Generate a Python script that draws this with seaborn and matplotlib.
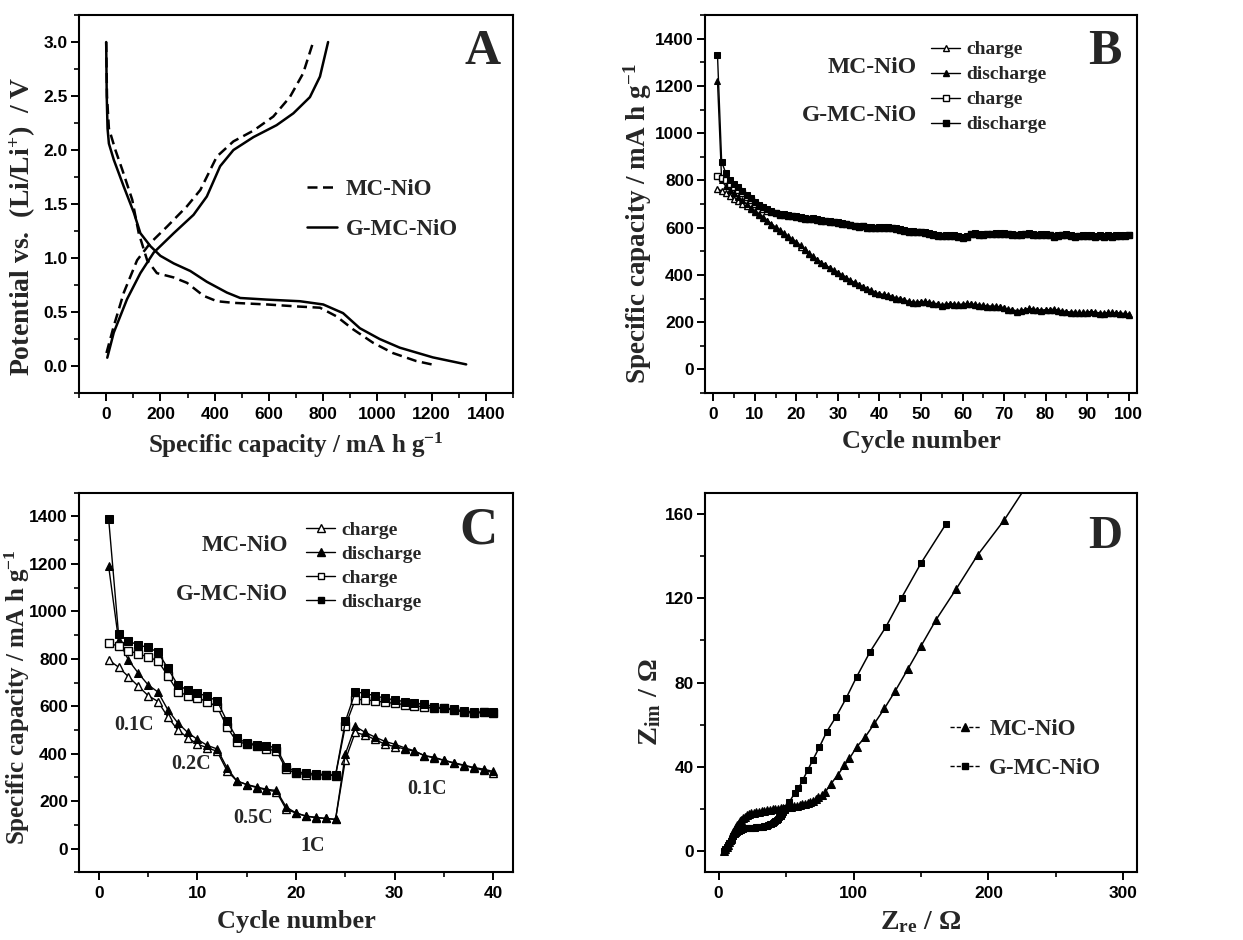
import matplotlib
matplotlib.use("Agg")
import matplotlib.pyplot as plt
import seaborn as sns
from matplotlib.ticker import MultipleLocator
from matplotlib.lines import Line2D

# ---------------- Panel A: charge/discharge profiles ----------------
A_mc_dis_x = [0, 3, 10, 34, 59, 96, 120, 151, 187, 249, 298, 359, 408, 469, 592, 714, 788, 849, 910, 984, 1057, 1143, 1216]
A_mc_dis_y = [3.0, 2.5, 2.2, 2.0, 1.82, 1.54, 1.23, 0.98, 0.86, 0.82, 0.77, 0.65, 0.60, 0.585, 0.57, 0.55, 0.54, 0.46, 0.34, 0.215, 0.12, 0.046, 0.006]
A_g_dis_x = [0, 2, 5, 10, 28, 65, 102, 126, 163, 200, 249, 310, 371, 445, 494, 592, 714, 800, 873, 935, 1008, 1082, 1204, 1327]
A_g_dis_y = [3.0, 2.5, 2.2, 2.06, 1.91, 1.66, 1.42, 1.23, 1.11, 1.02, 0.95, 0.88, 0.78, 0.68, 0.63, 0.615, 0.60, 0.57, 0.49, 0.35, 0.25, 0.17, 0.08, 0.015]
A_mc_chg_x = [1, 28, 65, 114, 163, 224, 298, 347, 408, 469, 543, 616, 677, 726, 763]
A_mc_chg_y = [0.12, 0.37, 0.68, 0.98, 1.14, 1.29, 1.48, 1.63, 1.94, 2.08, 2.18, 2.31, 2.49, 2.71, 3.0]
A_g_chg_x = [4, 28, 77, 126, 175, 249, 322, 371, 420, 469, 543, 628, 690, 751, 788, 818]
A_g_chg_y = [0.077, 0.31, 0.62, 0.86, 1.05, 1.23, 1.40, 1.57, 1.85, 2.0, 2.12, 2.23, 2.34, 2.49, 2.68, 3.0]

# ---------------- Panel B: cycling (100 cycles) ----------------
B_cycle = list(range(1, 101))
B_mc_charge = [765, 755, 745, 735, 722, 712, 700, 690, 678, 665,
               652, 640, 627, 613, 600, 587, 573, 560, 548, 536,
               520, 505, 490, 475, 462, 450, 440, 428, 418, 408,
               397, 385, 375, 365, 356, 348, 340, 332, 322, 318,
               315, 312, 305, 300, 298, 292, 285, 283, 282, 284,
               285, 282, 278, 275, 270, 274, 275, 274, 272, 274,
               276, 275, 273, 270, 268, 266, 266, 265, 262, 258,
               252, 250, 245, 247, 250, 255, 253, 250, 248, 250,
               250, 252, 248, 245, 242, 240, 240, 238, 238, 240,
               242, 240, 236, 235, 238, 238, 237, 236, 234, 230]
B_mc_discharge = [1220, 800, 775, 760, 745, 730, 715, 700, 685, 670,
                  657, 644, 630, 616, 602, 589, 576, 563, 551, 540,
                  525, 508, 493, 478, 465, 452, 442, 430, 420, 410,
                  400, 388, 378, 368, 358, 350, 342, 334, 325, 320,
                  318, 315, 308, 303, 300, 295, 288, 285, 285, 287,
                  288, 285, 281, 278, 273, 277, 278, 277, 275, 277,
                  279, 278, 276, 273, 271, 269, 268, 268, 265, 261,
                  255, 253, 248, 250, 253, 258, 256, 253, 251, 253,
                  253, 255, 251, 248, 245, 243, 243, 241, 241, 243,
                  245, 243, 239, 238, 241, 241, 240, 239, 237, 233]
B_g_charge = [820, 812, 800, 785, 772, 760, 745, 730, 715, 700,
              690, 680, 672, 665, 660, 655, 652, 650, 648, 645,
              640, 637, 635, 636, 633, 630, 627, 624, 622, 620,
              617, 614, 610, 606, 603, 605, 600, 598, 597, 598,
              600, 598, 597, 595, 590, 585, 583, 582, 580, 580,
              578, 575, 570, 565, 563, 565, 566, 565, 562, 558,
              560, 572, 573, 570, 570, 572, 572, 574, 575, 575,
              572, 570, 568, 570, 572, 574, 570, 568, 570, 570,
              568, 560, 565, 568, 570, 565, 562, 563, 565, 565,
              565, 562, 565, 560, 565, 562, 564, 565, 566, 567]
B_g_discharge = [1330, 880, 830, 800, 785, 770, 755, 740, 725, 710,
                 696, 686, 677, 670, 664, 659, 656, 653, 651, 648,
                 643, 640, 638, 639, 636, 633, 630, 627, 625, 623,
                 620, 617, 613, 609, 606, 608, 603, 601, 600, 601,
                 603, 601, 600, 598, 593, 588, 586, 585, 583, 583,
                 581, 578, 573, 568, 566, 568, 569, 568, 565, 561,
                 563, 575, 576, 573, 573, 575, 575, 577, 578, 578,
                 575, 573, 571, 573, 575, 577, 573, 571, 573, 573,
                 571, 563, 568, 571, 573, 568, 565, 566, 568, 568,
                 568, 565, 568, 563, 568, 565, 567, 568, 569, 570]

# ---------------- Panel C: rate capability (40 cycles) ----------------
C_cycle = list(range(1, 41))
C_mc_charge = [795, 765, 725, 685, 645, 620, 555, 500, 468, 440,
               425, 410, 328, 285, 270, 257, 247, 240, 165, 150,
               137, 130, 127, 123, 375, 490, 478, 460, 440, 430,
               420, 410, 392, 382, 372, 360, 350, 340, 330, 320]
C_mc_discharge = [1190, 880, 795, 740, 690, 660, 585, 530, 490, 460,
                  435, 420, 340, 285, 270, 260, 250, 245, 175, 150,
                  137, 132, 127, 123, 400, 515, 490, 470, 452, 440,
                  425, 412, 392, 385, 372, 362, 352, 342, 335, 325]
C_g_charge = [868, 852, 833, 822, 807, 792, 728, 662, 645, 634,
              620, 598, 512, 450, 442, 434, 420, 412, 335, 318,
              312, 310, 310, 308, 518, 628, 628, 622, 617, 612,
              607, 602, 597, 591, 591, 583, 576, 570, 574, 572]
C_g_discharge = [1390, 905, 875, 858, 848, 828, 760, 690, 668, 656,
                 642, 622, 537, 465, 446, 438, 433, 425, 345, 324,
                 318, 315, 312, 310, 537, 660, 655, 643, 635, 626,
                 620, 613, 608, 597, 593, 588, 580, 576, 576, 574]
C_rate_labels = ["0.1C", "0.2C", "0.5C", "1C", "0.1C"]
C_rate_x = [3.6, 9.4, 15.6, 21.7, 33.3]
C_rate_y = [520, 355, 130, 10, 250]

# ---------------- Panel D: Nyquist plots ----------------
D_mc_re = [4, 5, 6, 7, 8, 9, 10, 11, 12, 13, 14, 15, 16, 17, 18, 19.5, 21, 22.5,
           24, 26, 28, 30, 32, 34, 36, 38, 40, 42, 44, 46, 48, 50, 52, 54, 56, 58,
           60, 62, 64, 66, 68, 70, 72, 74, 76.5, 79,
           83.4, 88.3, 93.3, 97, 102.4, 108.8, 115.5, 122.9, 131, 140.1, 150,
           161.1, 175.9, 192, 211.7, 232]
D_mc_im = [0, 1, 2, 3, 4.5, 6, 7.5, 9, 10.5, 11.5, 12.5, 13.5, 14.3, 15, 15.7, 16.4, 17, 17.5,
           17.9, 18.2, 18.5, 18.8, 19, 19.2, 19.4, 19.6, 19.8, 20, 20.2, 20.4, 20.6, 20.8, 21, 21.2, 21.4, 21.6,
           21.9, 22.2, 22.6, 23, 23.5, 24, 24.7, 25.5, 26.5, 28,
           32.1, 36.1, 40.8, 44, 49.5, 54.3, 60.6, 67.7, 76.1, 86.2, 97.3,
           109.7, 124.2, 140.5, 157.1, 177]
D_g_re = [4, 4.5, 5, 6, 7, 8, 9, 10, 11, 12, 13, 14, 15, 16, 17, 18, 19, 20, 21, 22,
          23, 24, 25, 26, 27, 28, 29, 30, 31, 32, 33, 34, 35, 36, 37, 38, 39, 40, 41, 42,
          43, 44, 45, 46, 47, 48, 49, 50,
          52.5, 56.3, 59.2, 62.4, 66.1, 69.8, 74.8, 80.2, 87.1, 94.5, 102.4, 112.3,
          124.1, 135.7, 150, 168.5]
D_g_im = [0, 0.5, 1, 2, 3, 4, 5, 6, 7, 8, 8.5, 9, 9.5, 10, 10.3, 10.6, 10.8, 11, 11, 11,
          11, 11.1, 11.1, 11.2, 11.2, 11.3, 11.3, 11.4, 11.5, 11.6, 11.7, 11.8, 12, 12.2, 12.4, 12.7, 13, 13.4, 13.8, 14.3,
          14.8, 15.4, 16, 16.7, 17.5, 18.4, 19.4, 20.5,
          23.4, 27.4, 29.8, 33.7, 38.5, 43.2, 49.5, 56.7, 63.8, 72.5, 82.8, 94.6,
          106.5, 120.3, 136.6, 155.2]

# ---------------- Style ----------------
sns.set_theme(style="ticks")
plt.rcParams["font.family"] = ["Liberation Serif", "DejaVu Serif"]
plt.rcParams["font.weight"] = "bold"
plt.rcParams["axes.labelweight"] = "bold"
plt.rcParams["mathtext.default"] = "regular"
plt.rcParams["axes.linewidth"] = 1.5
plt.rcParams["axes.edgecolor"] = "black"

SERIF = "Liberation Serif"
SANS = "Liberation Sans"
XLABEL_FS = 18
YLABEL_FS = 19.5
TICK_FS = 12.5
LETTER_FS = 36

fig = plt.figure(figsize=(12.43, 9.4), dpi=100)
axA = fig.add_axes([0.0636, 0.5819, 0.3492, 0.4021])
axB = fig.add_axes([0.5672, 0.5819, 0.3475, 0.4021])
axC = fig.add_axes([0.0636, 0.0720, 0.3492, 0.4038])
axD = fig.add_axes([0.5672, 0.0720, 0.3475, 0.4038])


def style_axes(ax):
    for sp in ax.spines.values():
        sp.set_linewidth(1.5)
        sp.set_color("black")
        sp.set_visible(True)
    ax.tick_params(which="both", direction="out", top=False, right=False,
                   bottom=True, left=True, colors="black",
                   labelfontfamily=SANS, labelsize=TICK_FS)
    ax.tick_params(axis="y", pad=2)
    ax.tick_params(axis="x", pad=4)
    ax.tick_params(which="major", length=6, width=1.4)
    ax.tick_params(which="minor", length=3.5, width=1.2)
    for lbl in ax.get_xticklabels() + ax.get_yticklabels():
        lbl.set_fontweight("bold")
    ax.grid(False)


def line(ax, x, y, **kw):
    sns.lineplot(x=x, y=y, ax=ax, sort=False, estimator=None, color="black", **kw)


# ---- A ----
line(axA, A_mc_dis_x, A_mc_dis_y, lw=1.8, linestyle=(0, (4, 2.2)))
line(axA, A_mc_chg_x, A_mc_chg_y, lw=1.8, linestyle=(0, (4, 2.2)))
line(axA, A_g_dis_x, A_g_dis_y, lw=1.8)
line(axA, A_g_chg_x, A_g_chg_y, lw=1.8)
axA.set_xlim(-100, 1500)
axA.set_ylim(-0.25, 3.25)
axA.set_xticks(range(0, 1401, 200))
axA.xaxis.set_minor_locator(MultipleLocator(100))
axA.set_yticks([0.0, 0.5, 1.0, 1.5, 2.0, 2.5, 3.0])
axA.set_yticklabels(["0.0", "0.5", "1.0", "1.5", "2.0", "2.5", "3.0"])
axA.yaxis.set_minor_locator(MultipleLocator(0.25))
axA.set_xlabel("Specific capacity / mA h g$^{-1}$", fontsize=XLABEL_FS, family=SERIF, weight="bold", labelpad=6)
axA.set_ylabel("Potential vs.  (Li/Li$^{+}$)  / V", fontsize=YLABEL_FS + 0.5, family=SERIF, weight="bold")
axA.yaxis.set_label_coords(-0.095, 0.44)
hA = [Line2D([], [], color="black", lw=1.8, linestyle=(0, (4, 2.2))),
      Line2D([], [], color="black", lw=1.8)]
axA.legend(hA, ["MC-NiO", "G-MC-NiO"], loc="upper left", bbox_to_anchor=(0.525, 0.566),
           frameon=False, prop={"family": SERIF, "weight": "bold", "size": 16.5},
           handlelength=1.3, handletextpad=0.4, labelspacing=0.82, borderpad=0, borderaxespad=0)
axA.text(0.972, 0.962, "A", transform=axA.transAxes, ha="right", va="top",
         fontsize=LETTER_FS, family=SERIF, weight="bold")
style_axes(axA)

# ---- B ----
ms_b = 5
line(axB, B_cycle, B_mc_charge, lw=1, marker="^", markersize=ms_b, markerfacecolor="white", markeredgecolor="black", markeredgewidth=1)
line(axB, B_cycle, B_mc_discharge, lw=1, marker="^", markersize=ms_b, markerfacecolor="black", markeredgecolor="black")
line(axB, B_cycle, B_g_charge, lw=1, marker="s", markersize=ms_b - 0.5, markerfacecolor="white", markeredgecolor="black", markeredgewidth=1)
line(axB, B_cycle, B_g_discharge, lw=1, marker="s", markersize=ms_b - 0.5, markerfacecolor="black", markeredgecolor="black")
axB.set_xlim(-2, 102)
axB.set_ylim(-100, 1500)
axB.set_xticks(range(0, 101, 10))
axB.xaxis.set_minor_locator(MultipleLocator(5))
axB.set_yticks(range(0, 1401, 200))
axB.yaxis.set_minor_locator(MultipleLocator(100))
axB.set_xlabel("Cycle number", fontsize=XLABEL_FS + 1, family=SERIF, weight="bold", labelpad=6)
axB.set_ylabel("Specific capacity / mA h g$^{-1}$", fontsize=YLABEL_FS, family=SERIF, weight="bold")
axB.yaxis.set_label_coords(-0.117, 0.447)


def cd_legend(ax, x0, y0, fs, ls, ms):
    hs = [Line2D([], [], color="black", lw=1, marker="^", markersize=ms, markerfacecolor="white"),
          Line2D([], [], color="black", lw=1, marker="^", markersize=ms, markerfacecolor="black"),
          Line2D([], [], color="black", lw=1, marker="s", markersize=ms - 0.5, markerfacecolor="white"),
          Line2D([], [], color="black", lw=1, marker="s", markersize=ms - 0.5, markerfacecolor="black")]
    ax.legend(hs, ["charge", "discharge", "charge", "discharge"], loc="upper left",
              bbox_to_anchor=(x0, y0), frameon=False,
              prop={"family": SERIF, "weight": "bold", "size": fs},
              handlelength=1.5, handletextpad=0.3, labelspacing=ls, borderpad=0, borderaxespad=0)


cd_legend(axB, 0.523, 0.932, 14, 0.38, 5)
axB.text(0.49, 0.861, "MC-NiO", transform=axB.transAxes, ha="right", va="center",
         fontsize=17, family=SERIF, weight="bold")
axB.text(0.49, 0.733, "G-MC-NiO", transform=axB.transAxes, ha="right", va="center",
         fontsize=17, family=SERIF, weight="bold")
axB.text(0.965, 0.962, "B", transform=axB.transAxes, ha="right", va="top",
         fontsize=LETTER_FS, family=SERIF, weight="bold")
style_axes(axB)

# ---- C ----
ms_c = 6
line(axC, C_cycle, C_mc_charge, lw=1, marker="^", markersize=ms_c, markerfacecolor="white", markeredgecolor="black", markeredgewidth=1)
line(axC, C_cycle, C_mc_discharge, lw=1, marker="^", markersize=ms_c, markerfacecolor="black", markeredgecolor="black")
line(axC, C_cycle, C_g_charge, lw=1, marker="s", markersize=ms_c - 0.5, markerfacecolor="white", markeredgecolor="black", markeredgewidth=1)
line(axC, C_cycle, C_g_discharge, lw=1, marker="s", markersize=ms_c - 0.5, markerfacecolor="black", markeredgecolor="black")
axC.set_xlim(-2, 42)
axC.set_ylim(-100, 1500)
axC.set_xticks(range(0, 41, 10))
axC.xaxis.set_minor_locator(MultipleLocator(5))
axC.set_yticks(range(0, 1401, 200))
axC.yaxis.set_minor_locator(MultipleLocator(100))
axC.set_xlabel("Cycle number", fontsize=XLABEL_FS + 1, family=SERIF, weight="bold", labelpad=6)
axC.set_ylabel("Specific capacity / mA h g$^{-1}$", fontsize=18, family=SERIF, weight="bold")
axC.yaxis.set_label_coords(-0.109, 0.462)
for t, xx, yy in zip(C_rate_labels, C_rate_x, C_rate_y):
    axC.text(xx, yy, t, ha="center", va="center", fontsize=14.5, family=SERIF, weight="bold")
cd_legend(axC, 0.523, 0.924, 14, 0.32, 5.5)
axC.text(0.482, 0.862, "MC-NiO", transform=axC.transAxes, ha="right", va="center",
         fontsize=16.5, family=SERIF, weight="bold")
axC.text(0.482, 0.733, "G-MC-NiO", transform=axC.transAxes, ha="right", va="center",
         fontsize=16.5, family=SERIF, weight="bold")
axC.text(0.963, 0.963, "C", transform=axC.transAxes, ha="right", va="top",
         fontsize=LETTER_FS + 2, family=SERIF, weight="bold")
style_axes(axC)

# ---- D ----
line(axD, D_mc_re, D_mc_im, lw=1.1, marker="^", markersize=5.5, markerfacecolor="black", markeredgecolor="black")
line(axD, D_g_re, D_g_im, lw=1.1, marker="s", markersize=5, markerfacecolor="black", markeredgecolor="black")
axD.set_xlim(-10, 310)
axD.set_ylim(-10, 170)
axD.set_xticks([0, 100, 200, 300])
axD.xaxis.set_minor_locator(MultipleLocator(50))
axD.set_yticks([0, 40, 80, 120, 160])
axD.yaxis.set_minor_locator(MultipleLocator(20))
axD.set_xlabel("Z$_{re}$ / \u03a9", fontsize=XLABEL_FS + 2, family=SERIF, weight="bold", labelpad=6)
axD.set_ylabel("Z$_{im}$ / \u03a9", fontsize=YLABEL_FS + 1, family=SERIF, weight="bold")
axD.yaxis.set_label_coords(-0.097, 0.449)
hD = [Line2D([], [], color="black", lw=1, ls=(0, (3, 1.5)), marker="^", markersize=5.5),
      Line2D([], [], color="black", lw=1, ls=(0, (3, 1.5)), marker="s", markersize=5)]
axD.legend(hD, ["MC-NiO", "G-MC-NiO"], loc="upper left", bbox_to_anchor=(0.568, 0.405),
           frameon=False, prop={"family": SERIF, "weight": "bold", "size": 16.5},
           handlelength=1.3, handletextpad=0.4, labelspacing=0.82, borderpad=0, borderaxespad=0)
axD.text(0.965, 0.94, "D", transform=axD.transAxes, ha="right", va="top",
         fontsize=LETTER_FS - 2, family=SERIF, weight="bold")
style_axes(axD)

fig.savefig("out.png", dpi=100, facecolor="white")
